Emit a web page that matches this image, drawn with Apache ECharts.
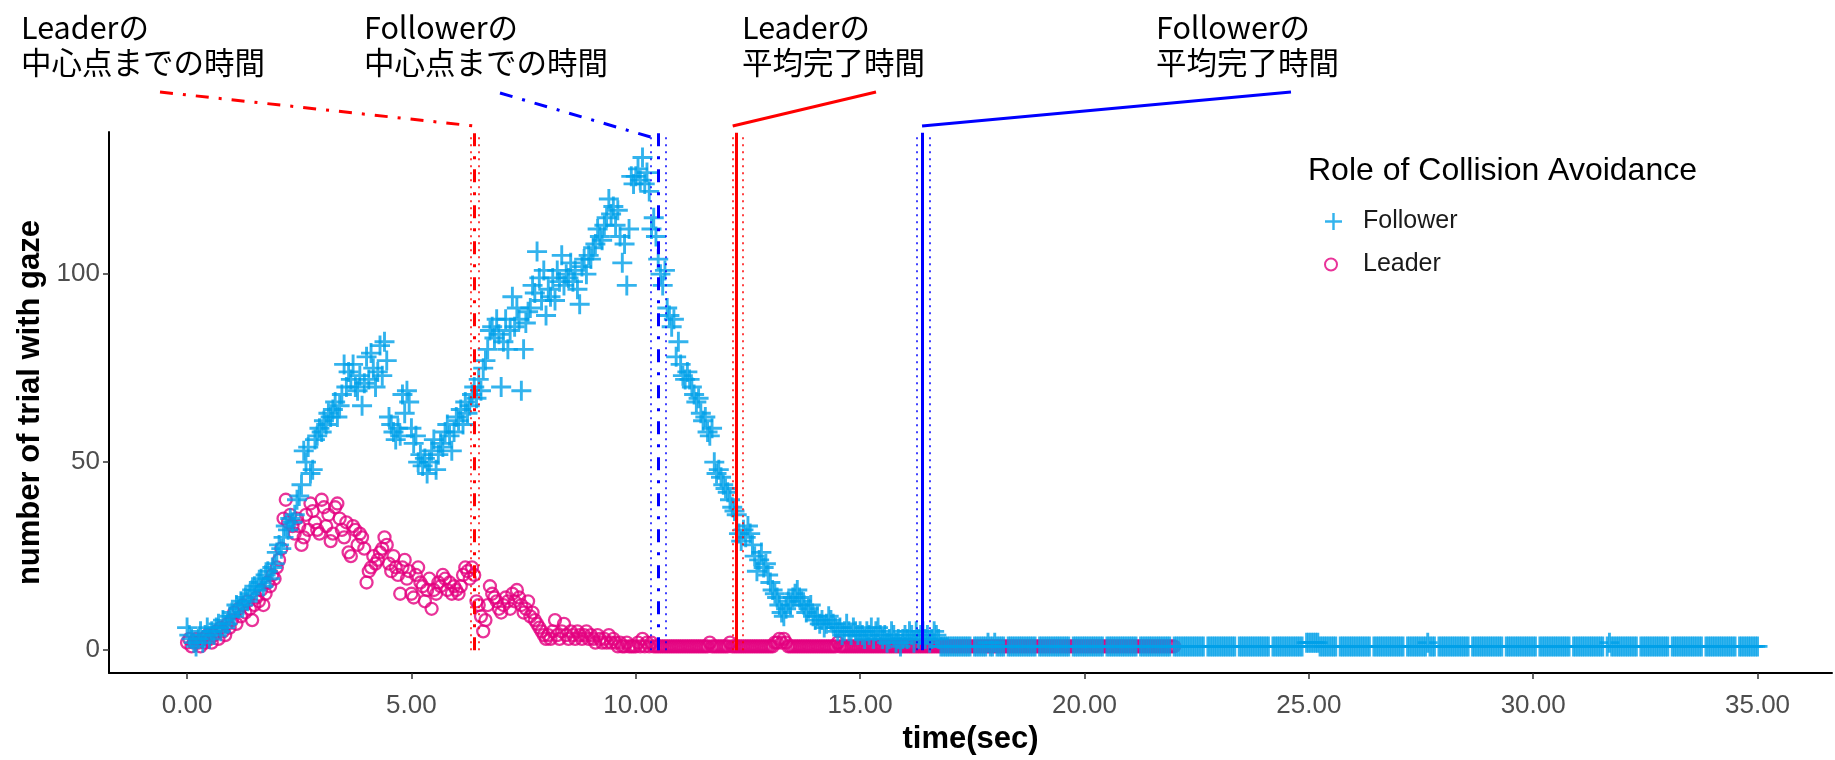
<!DOCTYPE html>
<html><head><meta charset="utf-8">
<script src="https://cdn.jsdelivr.net/npm/echarts@6/dist/echarts.min.js"></script>
<style>html,body{margin:0;padding:0;background:#fff;}#c{width:1835px;height:760px;}</style>
</head><body><div id="c"></div>
<script>
// ---- sampling step (s) ----
const DT = 0.05;

// ---- Follower: number of trials with gaze, one row per second (t = row + k*DT) ----
const followerRows = [
 [6,4,3,2,1,3,5,2,4,6,3,5,4,6,7,5,8,6,7,9],
 [10,9,12,11,13,12,14,13,15,16,17,16,18,19,17,20,21,19,22,23],
 [26,28,27,30,33,32,35,34,36,40,41,44,53,50,54,47,48,56,57,59],
 [58,61,60,63,62,64,66,62,65,68,76,70,74,72,76,70,69,73,65,71],
 [78,72,79,75,70,74,81,73,82,77,62,60,58,56,59,57,68,63,69,66],
 [59,55,57,50,52,49,51,47,50,53,56,48,52,55,54,58,60,57,53,58],
 [62,61,64,60,66,63,65,68,70,67,72,69,75,77,80,85,86,83,88,84],
 [70,82,88,80,85,94,86,91,88,69,80,87,90,91,97,95,106,99,93,101],
 [89,96,94,99,93,101,98,105,97,100,99,103,98,101,96,92,102,104,100,105],
 [104,107,108,112,110,109,113,115,120,116,118,113,117,110,103,108,97,112,126,124],
 [126,128,125,131,124,127,122,112,115,110,104,100,97,101,91,89,86,88,78,82],
 [76,73,72,74,72,70,68,66,67,63,61,62,58,57,59,50,47,48,46,44],
 [43,42,40,38,37,36,31,29,32,30,33,31,28,25,21,24,26,22,23,20],
 [18,16,15,14,12,10,9,11,13,12,14,15,16,14,13,12,10,11,12,9],
 [8,9,7,8,6,7,9,8,7,6,5,6,4,5,7,5,4,6,5,4],
 [5,4,3,5,4,6,3,5,6,4,3,4,2,3,5,4,2,3,1,3],
 [4,3,5,4,2,5,3,4,5,3,4,2,3,5,4,3]
];
// Follower tail from 16.80 s, one digit per DT step, '-' = no sample
const followerTailStart = 16.80;
const followerTail = [
 "11111111111111","11111121121111","1111111111111","11111111111111","11111111111111",
 "11111111111111","11111111111111","11111111111111","1111111111111","11111111111111",
 "11111111111111","22222211111111","11111111111111","11111111111111","1111111112111",
 "11111111111111","11111111111111","11111111111111","11111111111111","11111111111111",
 "12111111111111","1111111111111","11111111111111","11111111111111","111111111"
];

// ---- Leader ----
const leaderRows = [
 [2,3,1,2,3,2,1,3,2,4,3,2,4,5,3,6,5,4,7,6],
 [8,10,7,11,9,12,10,13,11,8,12,14,13,16,12,15,18,17,20,19],
 [22,24,27,35,40,34,36,33,31,35,33,28,30,36,32,39,37,34,32,31],
 [40,38,33,36,29,31,38,39,35,32,30,34,26,25,33,32,28,31,30,27],
 [18,21,22,25,23,24,26,27,30,28,23,21,25,22,20,15,22,24,19,21],
 [15,14,20,22,18,17,13,16,19,11,16,15,18,17,20,19,16,18,15,17],
 [16,15,17,20,22,21,19,22,20,13,12,9,5,8,12,17,15,14,13,11],
 [10,12,14,13,11,15,13,16,14,12,10,11,13,9,10,8,7,6,5,4],
 [3,4,3,5,8,4,3,5,7,4,3,5,4,3,5,4,3,4,5,3],
 [4,3,2,4,3,2,3,2,4,2,3,2,1,2,1,1,2,1,1,1]
];
const leaderTailStart = 10.00;
const leaderTail = [
 "12131212111111111111","11111111111112111111","11211111111111111111",
 "11223232111111111111","11111111112111111111","11111111111111111111",
 "11111111111111111111","11111111111111111111","11111111111111111111",
 "11111111111111111111","11111111111111111111","11111111111111111111","1"
];

// ---- reference times (s): mean and dotted bounds ----
const refNames   = ['Leader center','Follower center','Leader completion','Follower completion'];
const refMean    = [6.40, 10.49, 12.23, 16.38];
const refLower   = [6.32, 10.33, 12.16, 16.27];
const refUpper   = [6.51, 10.67, 12.39, 16.56];
const refColor   = ['#ff0000','#0000ff','#ff0000','#0000ff'];
const refKind    = ['dashdot','dashdot','solid','solid'];
const refTop     = 137.6;

const annotText = [
 ['Leaderの','中心点までの時間'],
 ['Followerの','中心点までの時間'],
 ['Leaderの','平均完了時間'],
 ['Followerの','平均完了時間']
];

const xTicks = [0,5,10,15,20,25,30,35];
const yTicks = [0,50,100];
const yTitle = 'number of trial with gaze';

// ---- build data ----
function fromRows(rows, t0){
  const out=[];
  rows.forEach((row,r)=>row.forEach((v,k)=>out.push([+(t0+r+k*DT).toFixed(2), v])));
  return out;
}
function fromString(str, t0){
  const out=[];
  for(let i=0;i<str.length;i++){ const c=str[i]; if(c!=='-') out.push([+(t0+i*DT).toFixed(2), +c]); }
  return out;
}
const followerData = fromRows(followerRows,0).concat(fromString(followerTail.join('-'), followerTailStart));
const leaderData = fromRows(leaderRows,0).concat(fromString(leaderTail.join(''), leaderTailStart));

const CROSS = 'path://M-1.45,-10 L1.45,-10 L1.45,-1.45 L10,-1.45 L10,1.45 L1.45,1.45 L1.45,10 L-1.45,10 L-1.45,1.45 L-10,1.45 L-10,-1.45 L-1.45,-1.45 Z';
const FONT = '"Liberation Sans", Arial, sans-serif';
const CYAN = '#00a0e9', MAG = '#e4007f';

function styleFor(i, part){
  if(part!=='mean') return {color:refColor[i], width:1.5, type:[2,5]};
  if(refKind[i]==='dashdot') return {color:refColor[i], width:3, type:[13,10,3,10]};
  return {color:refColor[i], width:3, type:'solid'};
}
const markData=[];
refMean.forEach((m,i)=>{
  [['lower',refLower[i]],['upper',refUpper[i]],['mean',m]].forEach(([p,x])=>{
    markData.push([{coord:[x,0], lineStyle:styleFor(i,p)},{coord:[x,refTop]}]);
  });
});

const chart = echarts.init(document.getElementById('c'));
chart.setOption({
  animation:false,
  backgroundColor:'#fff',
  textStyle:{fontFamily:FONT},
  grid:{left:109, right:3, top:132, bottom:84, containLabel:false},
  title:{text:'Role of Collision Avoidance', left:1303, top:150, padding:5,
    textStyle:{fontSize:32, fontWeight:'normal', color:'#000', fontFamily:FONT}},
  legend:[
    {data:['Follower'], left:1320, top:204, itemWidth:19, itemHeight:17, selectedMode:false,
      textStyle:{fontSize:25, color:'#1a1a1a', fontFamily:FONT, padding:[0,0,0,15]}},
    {data:['Leader'], left:1319, top:247, itemWidth:12, itemHeight:12, selectedMode:false,
      textStyle:{fontSize:25, color:'#1a1a1a', fontFamily:FONT, padding:[0,0,0,21]}}
  ],
  xAxis:{type:'value', min:-1.74, max:36.66,
    name:'time(sec)', nameLocation:'middle', nameGap:49,
    nameTextStyle:{fontSize:31, fontWeight:'bold', color:'#000', fontFamily:FONT},
    axisLine:{show:true, onZero:false, lineStyle:{color:'#000', width:2}},
    axisTick:{show:true, length:6, customValues:xTicks, lineStyle:{color:'#333', width:1.5}},
    axisLabel:{customValues:xTicks, formatter:v=>v.toFixed(2), fontSize:26, color:'#4d4d4d', margin:20, fontFamily:FONT},
    splitLine:{show:false}},
  yAxis:{type:'value', min:-6.1, max:137.8,
    axisLine:{show:true, onZero:false, lineStyle:{color:'#000', width:2}},
    axisTick:{show:true, length:6, customValues:yTicks, lineStyle:{color:'#333', width:1.5}},
    axisLabel:{customValues:yTicks, fontSize:26, color:'#4d4d4d', margin:9, fontFamily:FONT},
    splitLine:{show:false}},
  series:[
    {name:'Leader', type:'scatter', data:leaderData, symbol:'circle', symbolSize:12,
      itemStyle:{color:'rgba(255,255,255,0)', borderColor:MAG, borderWidth:2.3}, z:2},
    {name:'Follower', type:'scatter', data:followerData, symbol:CROSS, symbolSize:20,
      itemStyle:{color:CYAN}, z:2},
    {name:'ref', type:'scatter', data:[], z:5,
      markLine:{silent:true, symbol:['none','none'], label:{show:false}, animation:false, data:markData}}
  ]
});

// ---- annotations above the plot, anchored through the axis scale ----
const textLeft = [21, 364, 742, 1156];
const lineFrom = [[160,92],[500,93],[876,92],[1291,92]];
const lineToY  = [126, 137, 126, 126];
const attachTo = [refMean[0], refLower[1], refLower[2], refMean[3]];
const graphics=[];
annotText.forEach((t,i)=>{
  graphics.push({type:'text', x:textLeft[i], y:10, silent:true,
    style:{text:t.join('\n'), fontSize:30.5, fontFamily:'"Noto Sans CJK JP"', fill:'#000', lineHeight:35, verticalAlign:'top'}});
  const px = chart.convertToPixel({gridIndex:0},[attachTo[i],0])[0];
  const st = {stroke:refColor[i], lineWidth:3};
  if(refKind[i]==='dashdot') st.lineDash=[13,10,3,10];
  graphics.push({type:'line', silent:true, shape:{x1:lineFrom[i][0], y1:lineFrom[i][1], x2:px, y2:lineToY[i]}, style:st});
});
// y-axis title, centred on the y extent of the grid
const yMid = (chart.convertToPixel({gridIndex:0},[0,-6.1])[1] + chart.convertToPixel({gridIndex:0},[0,137.8])[1]) / 2;
graphics.push({type:'text', x:30, y:yMid, rotation:Math.PI/2, silent:true,
  style:{text:yTitle, fontSize:31, fontWeight:'bold', fontFamily:FONT, fill:'#000', align:'center', verticalAlign:'middle'}});
chart.setOption({graphic:graphics});
</script></body></html>
